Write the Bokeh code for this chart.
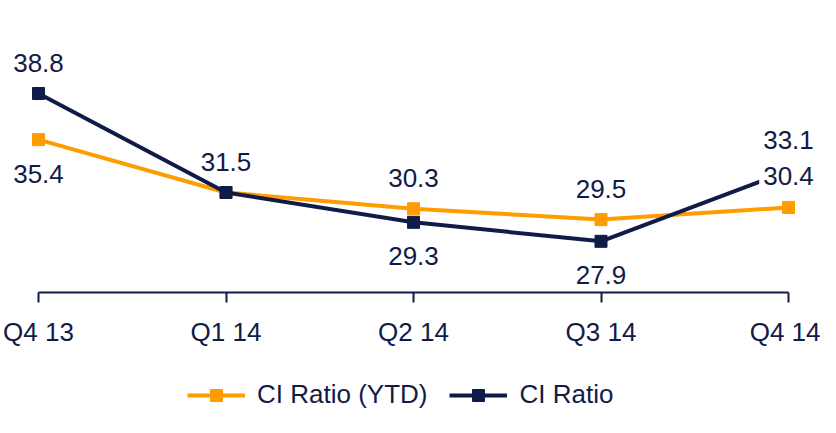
from bokeh.plotting import figure
from bokeh.models import (Range1d, FixedTicker, LabelSet, ColumnDataSource,
                          Legend, LegendItem)
from bokeh.core.properties import value
from bokeh.embed import file_html
from bokeh.resources import INLINE

quarters = ["Q4 13", "Q1 14", "Q2 14", "Q3 14", "Q4 14"]
ci_ratio_ytd = [35.4, 31.5, 30.3, 29.5, 30.4]
ci_ratio = [38.8, 31.5, 29.3, 27.9, 33.1]
# label placement: 1 = above point, -1 = below point
ytd_label_side = [-1, 1, 1, 1, 1]
ci_label_side = [1, 0, -1, -1, 1]   # 0 = no separate label (shared value)

ORANGE = "#FF9C00"
NAVY = "#111B47"
FONT = "Liberation Sans"
FS = "26px"

W, H = 820, 417
x = list(range(len(quarters)))
step_px = 187.5
left_pad = 38
right_pad = W - left_pad - step_px * (len(quarters) - 1)
px_per_unit = 13.56
ref_val, ref_px = 31.5, 192          # value at a known pixel row
axis_px = 292

p = figure(width=W, height=H, output_backend="svg", toolbar_location=None,
           x_range=Range1d(-left_pad / step_px, len(quarters) - 1 + right_pad / step_px),
           y_range=Range1d(ref_val - (H - ref_px) / px_per_unit,
                           ref_val + ref_px / px_per_unit),
           y_axis_location=None, min_border_left=0, min_border_right=0,
           min_border_top=0, min_border_bottom=0)
p.outline_line_color = None
p.xgrid.visible = False
p.ygrid.visible = False
p.background_fill_color = "white"
p.border_fill_color = "white"

ax = p.xaxis[0]
ax.fixed_location = ref_val - (axis_px - ref_px) / px_per_unit
ax.ticker = FixedTicker(ticks=x)
ax.bounds = (0, len(quarters) - 1)
ax.major_label_overrides = {i: q for i, q in zip(x, quarters)}
ax.axis_line_color = NAVY
ax.axis_line_width = 2
ax.major_tick_line_color = NAVY
ax.major_tick_line_width = 2
ax.major_tick_in = 0
ax.major_tick_out = 10
ax.minor_tick_line_color = None
ax.major_label_standoff = 14
ax.major_label_text_font = FONT
ax.major_label_text_font_size = FS
ax.major_label_text_color = NAVY

src = ColumnDataSource(dict(x=x, ytd=ci_ratio_ytd, ci=ci_ratio))

l1 = p.line("x", "ytd", source=src, line_color=ORANGE, line_width=4)
m1 = p.scatter("x", "ytd", source=src, marker="square", size=12,
               fill_color=ORANGE, line_color=ORANGE)
l2 = p.line("x", "ci", source=src, line_color=NAVY, line_width=4)
m2 = p.scatter("x", "ci", source=src, marker="square", size=12,
               fill_color=NAVY, line_color=NAVY)

lab_x, lab_y, lab_t, lab_off = [], [], [], []
for i in x:
    if ci_label_side[i] != 0:
        lab_x.append(i); lab_y.append(ci_ratio[i]); lab_t.append(f"{ci_ratio[i]:.1f}")
        lab_off.append(31 if ci_label_side[i] > 0 else -34)
for i in x:
    lab_x.append(i); lab_y.append(ci_ratio_ytd[i]); lab_t.append(f"{ci_ratio_ytd[i]:.1f}")
    lab_off.append(31 if ytd_label_side[i] > 0 else -34)

lsrc = ColumnDataSource(dict(x=lab_x, y=lab_y, t=lab_t, off=lab_off))
labels = LabelSet(x="x", y="y", text="t", source=lsrc, y_offset="off",
                  text_align="center", text_baseline="middle",
                  text_font=value(FONT), text_font_size=value(FS),
                  text_color=NAVY, background_fill_color="white",
                  border_line_color="white", border_line_width=8)
p.add_layout(labels)

legend = Legend(items=[LegendItem(label="CI Ratio (YTD)", renderers=[l1, m1]),
                       LegendItem(label="CI Ratio", renderers=[l2, m2])],
                orientation="horizontal", location=(187, 7),
                label_text_font=FONT, label_text_font_size=FS,
                label_text_color=NAVY, glyph_width=58, glyph_height=30,
                label_standoff=12, spacing=22, padding=0, margin=0,
                border_line_color=None, background_fill_color=None)
p.add_layout(legend)

open("out.html", "w").write(file_html(p, INLINE))
